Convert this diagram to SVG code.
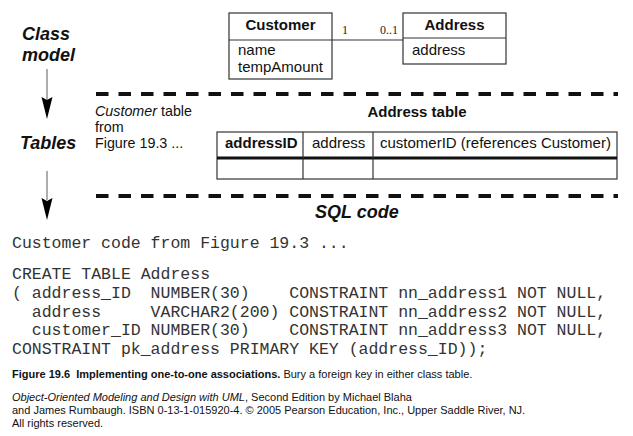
<svg xmlns="http://www.w3.org/2000/svg" width="633" height="436" viewBox="0 0 633 436">
<style>
.s{font-family:"Liberation Sans",Arial,sans-serif;fill:#111}
.b{font-weight:bold}
.i{font-style:italic}
.lbl{font-size:18px;font-weight:bold;font-style:italic}
.t15{font-size:15px}
.note{font-size:14.3px}
.mono{font-family:"Liberation Mono","Courier New",monospace;font-size:16.5px;fill:#333;white-space:pre}
.serif{font-family:"Liberation Serif","Times New Roman",serif;font-size:12px;fill:#222}
.box{fill:#fff;stroke:#333;stroke-width:1.2}
.ln{stroke:#333;stroke-width:1.2;fill:none}
.dash{stroke:#111;stroke-width:4;stroke-dasharray:12.5 10;fill:none}
.flow{stroke:#999;stroke-width:1.6;fill:none}
.cap{font-size:11px}
</style>
<rect width="633" height="436" fill="#fff"/>

<g id="labels">
<text class="s lbl" x="22" y="40">Class</text>
<text class="s lbl" x="22" y="61">model</text>
<text class="s lbl" x="20" y="149">Tables</text>
<text class="s lbl" x="315" y="218">SQL code</text>
</g>

<g id="flow-arrows">
<line class="flow" x1="47" y1="69" x2="47" y2="100"/>
<polygon points="41.5,97 47,100 52.5,97 47,119" fill="#000"/>
<line class="flow" x1="47" y1="171" x2="47" y2="200"/>
<polygon points="41.5,198 47,201 52.5,198 47,220" fill="#000"/>
</g>

<g id="separators">
<line class="dash" x1="96" y1="94" x2="618" y2="94"/>
<line class="dash" x1="96" y1="196" x2="618" y2="196"/>
</g>

<g id="Customer">
<rect class="box" x="229" y="13" width="103" height="66"/>
<line class="ln" x1="229" y1="40" x2="332" y2="40"/>
<text class="s b t15" x="280.5" y="29.5" text-anchor="middle">Customer</text>
<text class="s t15" x="238" y="55">name</text>
<text class="s t15" x="238" y="72">tempAmount</text>
</g>

<g id="Address">
<rect class="box" x="403" y="13" width="103" height="51"/>
<line class="ln" x1="403" y1="38" x2="506" y2="38"/>
<text class="s b t15" x="454.5" y="29.5" text-anchor="middle">Address</text>
<text class="s t15" x="412" y="55">address</text>
</g>

<g id="connectors">
<line class="ln" x1="332" y1="40" x2="403" y2="40"/>
<text class="serif" x="342" y="34">1</text>
<text class="serif" x="380" y="34">0..1</text>
</g>

<g id="CustomerTableNote">
<text class="s note" x="95" y="116"><tspan class="i">Customer</tspan> table</text>
<text class="s note" x="95" y="132">from</text>
<text class="s note" x="95" y="148">Figure 19.3 ...</text>
</g>

<g id="AddressTable">
<text class="s b t15" x="417" y="117" text-anchor="middle">Address table</text>
<rect class="box" x="217" y="132" width="400" height="47"/>
<line x1="217" y1="158" x2="617" y2="158" stroke="#111" stroke-width="3"/>
<line class="ln" x1="303" y1="132" x2="303" y2="179"/>
<line class="ln" x1="373" y1="132" x2="373" y2="179"/>
<text class="s b t15" x="225" y="148">addressID</text>
<text class="s t15" x="312" y="148">address</text>
<text class="s t15" x="380" y="148">customerID (references Customer)</text>
</g>

<g id="SQLCode">
<text class="mono" x="12" y="248">Customer code from Figure 19.3 ...</text>
<text class="mono" x="12" y="279">CREATE TABLE Address</text>
<text class="mono" x="12" y="297.8">( address_ID  NUMBER(30)    CONSTRAINT nn_address1 NOT NULL,</text>
<text class="mono" x="12" y="316.6">  address     VARCHAR2(200) CONSTRAINT nn_address2 NOT NULL,</text>
<text class="mono" x="12" y="335.4">  customer_ID NUMBER(30)    CONSTRAINT nn_address3 NOT NULL,</text>
<text class="mono" x="12" y="354.2">CONSTRAINT pk_address PRIMARY KEY (address_ID));</text>
</g>

<g id="caption">
<text class="s cap" x="12" y="378" xml:space="preserve"><tspan class="b">Figure 19.6  Implementing one-to-one associations.</tspan> Bury a foreign key in either class table.</text>
<text class="s cap" x="12" y="401"><tspan class="i">Object-Oriented Modeling and Design with UML</tspan>, Second Edition by Michael Blaha</text>
<text class="s cap" x="12" y="414">and James Rumbaugh. ISBN 0-13-1-015920-4. © 2005 Pearson Education, Inc., Upper Saddle River, NJ.</text>
<text class="s cap" x="12" y="427">All rights reserved.</text>
</g>
</svg>
